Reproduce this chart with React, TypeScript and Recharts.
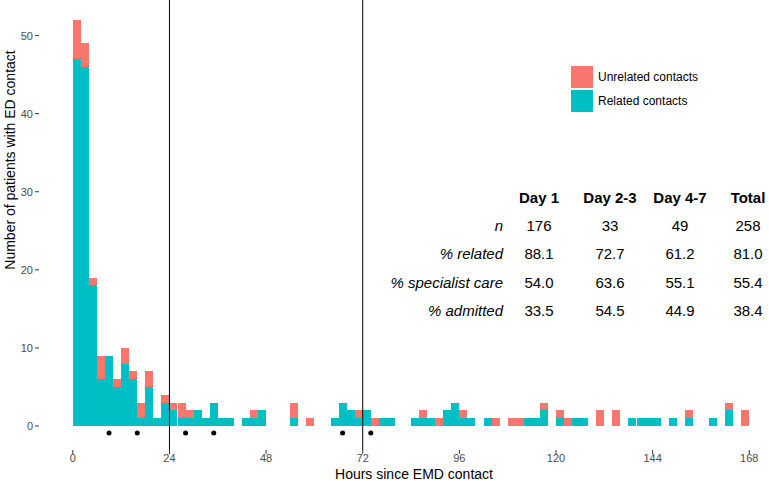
import React from 'react';
import { ComposedChart, Bar, XAxis, YAxis, ReferenceLine, ReferenceDot } from 'recharts';

// 2-hour bins, start hour of each bin
const binStart = [
  0, 2, 4, 6, 8, 10, 12, 14, 16, 18, 20, 22,
  24, 26, 28, 30, 32, 34, 36, 38, 40, 42, 44, 46,
  48, 50, 52, 54, 56, 58, 60, 62, 64, 66, 68, 70,
  72, 74, 76, 78, 80, 82, 84, 86, 88, 90, 92, 94,
  96, 98, 100, 102, 104, 106, 108, 110, 112, 114, 116, 118,
  120, 122, 124, 126, 128, 130, 132, 134, 136, 138, 140, 142,
  144, 146, 148, 150, 152, 154, 156, 158, 160, 162, 164, 166,
];

const related = [
  47, 46, 18, 6, 9, 5, 8, 6, 1, 5, 1, 3,
  2, 1, 1, 2, 1, 3, 1, 1, 0, 1, 1, 2,
  0, 0, 0, 1, 0, 0, 0, 0, 1, 3, 2, 1,
  2, 0, 1, 1, 0, 0, 1, 1, 1, 0, 2, 3,
  1, 1, 0, 1, 0, 0, 0, 0, 1, 1, 2, 0,
  1, 0, 1, 1, 0, 0, 0, 0, 0, 1, 1, 1,
  1, 0, 1, 0, 1, 0, 0, 1, 0, 2, 0, 0,
];

const unrelated = [
  5, 3, 1, 3, 0, 1, 2, 1, 2, 2, 0, 1,
  1, 2, 1, 0, 0, 0, 0, 0, 0, 0, 1, 0,
  0, 0, 0, 2, 0, 1, 0, 0, 0, 0, 0, 1,
  0, 1, 0, 0, 0, 0, 0, 1, 0, 1, 0, 0,
  1, 0, 0, 0, 1, 0, 1, 1, 0, 0, 1, 0,
  1, 1, 0, 0, 0, 2, 0, 2, 0, 0, 0, 0,
  0, 0, 0, 0, 1, 0, 0, 0, 0, 1, 0, 2,
];

const dotHours = [9, 16, 28, 35, 67, 74];
const dayCuts = [24, 72];
const xTicks = [0, 24, 48, 72, 96, 120, 144, 168];
const yTicks = [0, 10, 20, 30, 40, 50];

const legendItems = [
  { label: 'Unrelated contacts', color: '#F8766D' },
  { label: 'Related contacts', color: '#00BFC4' },
];

const tableCols = ['Day 1', 'Day 2-3', 'Day 4-7', 'Total'];
const tableRows = ['n', '% related', '% specialist care', '% admitted'];
const tableValues = [
  ['176', '33', '49', '258'],
  ['88.1', '72.7', '61.2', '81.0'],
  ['54.0', '63.6', '55.1', '55.4'],
  ['33.5', '54.5', '44.9', '38.4'],
];

const data = binStart.map((h, i) => ({ hour: h + 1, related: related[i], unrelated: unrelated[i] }));

const W = 769;
const H = 481;
const LEFT = 39;
const BOTTOM_AXIS = 31;
const X_DOMAIN: [number, number] = [-8.4, 172.9];
const Y_DOMAIN: [number, number] = [-3.074, 54.56];
const FONT = '"Liberation Sans", Arial, Helvetica, sans-serif';

const colX = [539, 610, 680, 748];
const rowY = [225, 253, 282, 310];
const headY = 197;

export default function App() {
  return (
    <div style={{ position: 'absolute', left: 0, top: 0, width: W, height: H, background: '#fff', fontFamily: FONT, overflow: 'hidden' }}>
      <ComposedChart width={W} height={H} data={data} barCategoryGap={0} barGap={0} margin={{ top: 0, right: 0, bottom: 0, left: 0 }}>
        <XAxis
          dataKey="hour"
          type="number"
          domain={X_DOMAIN}
          allowDataOverflow
          ticks={xTicks}
          height={BOTTOM_AXIS}
          axisLine={false}
          tickSize={4}
          tickMargin={0}
          tickLine={{ stroke: '#333' }}
          tick={{ fill: '#4d4d4d', fontSize: 11, fontFamily: FONT }}
        />
        <YAxis
          type="number"
          domain={Y_DOMAIN}
          allowDataOverflow
          ticks={yTicks}
          width={LEFT}
          axisLine={false}
          tickSize={4}
          tickLine={{ stroke: '#333' }}
          tick={{ fill: '#4d4d4d', fontSize: 11, fontFamily: FONT }}
        />
        <Bar dataKey="related" stackId="a" fill="#00BFC4" shapeRendering="crispEdges" isAnimationActive={false} />
        <Bar dataKey="unrelated" stackId="a" fill="#F8766D" shapeRendering="crispEdges" isAnimationActive={false} />
        {dayCuts.map((h) => (
          <ReferenceLine key={h} x={h} stroke="#000" strokeWidth={1} />
        ))}
        {dotHours.map((h) => (
          <ReferenceDot key={h} x={h} y={-0.9} r={2.5} fill="#000" stroke="none" />
        ))}
      </ComposedChart>

      {/* axis titles */}
      <div style={{ position: 'absolute', left: 414, top: 474, transform: 'translate(-50%, -50%)', fontSize: 14, whiteSpace: 'nowrap', color: '#000' }}>
        Hours since EMD contact
      </div>
      <div style={{ position: 'absolute', left: 10, top: 160, transform: 'translate(-50%, -50%) rotate(-90deg)', fontSize: 14, whiteSpace: 'nowrap', color: '#000' }}>
        Number of patients with ED contact
      </div>

      {/* legend */}
      {legendItems.map((it, i) => (
        <div key={it.label} style={{ position: 'absolute', left: 571, top: 66 + i * 24, height: 22, display: 'flex', alignItems: 'center' }}>
          <div style={{ width: 22, height: 22, background: it.color }} />
          <span style={{ marginLeft: 5, fontSize: 12, color: '#000' }}>{it.label}</span>
        </div>
      ))}

      {/* summary table */}
      {tableCols.map((c, j) => (
        <div key={c} style={{ position: 'absolute', left: colX[j], top: headY, transform: 'translate(-50%, -50%)', fontSize: 15, fontWeight: 'bold', whiteSpace: 'nowrap' }}>
          {c}
        </div>
      ))}
      {tableRows.map((r, i) => (
        <React.Fragment key={r}>
          <div style={{ position: 'absolute', right: W - 503, top: rowY[i], transform: 'translateY(-50%)', fontSize: 15, fontStyle: 'italic', whiteSpace: 'nowrap' }}>
            {r}
          </div>
          {tableValues[i].map((v, j) => (
            <div key={j} style={{ position: 'absolute', left: colX[j], top: rowY[i], transform: 'translate(-50%, -50%)', fontSize: 15, whiteSpace: 'nowrap' }}>
              {v}
            </div>
          ))}
        </React.Fragment>
      ))}
    </div>
  );
}
